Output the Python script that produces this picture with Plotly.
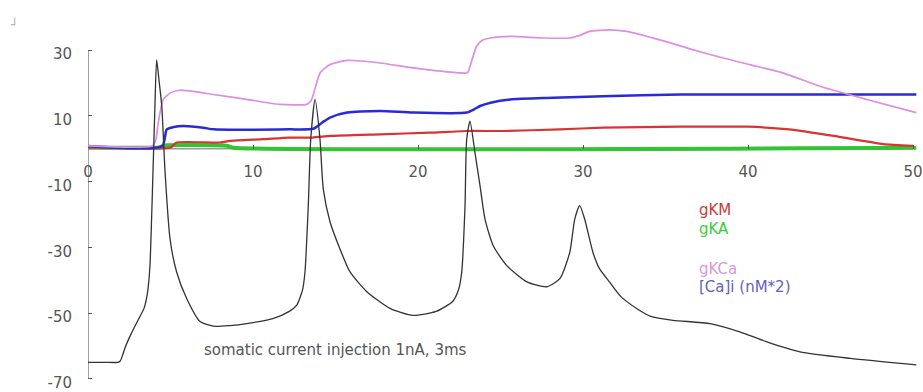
import plotly.graph_objects as go

# ---------------- data ----------------
t_vm = [0, 1.0, 1.8, 1.95, 2.1, 2.25, 2.6, 3.0, 3.4, 3.6, 3.75, 3.85, 3.95, 4.05, 4.16, 4.3, 4.47, 4.67,
        4.97, 5.37, 5.98, 6.79, 7.6, 8.6, 9.62, 11.2, 12.2, 12.65, 13.0, 13.15, 13.35, 13.5,
        13.76, 14.06, 14.26, 14.67, 15.27, 15.88, 16.9, 18.3, 19.7, 21.1, 22.1, 22.45, 22.65,
        22.85, 22.95, 23.15, 23.45, 23.76, 24.06, 24.56, 25.37, 26.6, 27.8, 28.6, 29.2, 29.5,
        29.8, 30.1, 30.6, 31.0, 31.6, 32.3, 33.25, 34.1, 35.45, 37.7, 39.5, 41.1, 43.15, 46.2, 50.2]
vm = [-65, -65, -65, -64.6, -62.8, -60.5, -56.5, -52.5, -48.5, -44, -36, -22, -5, 12, 27, 21, 13, -7,
      -27.4, -37.5, -45.6, -52.6, -54, -53.8, -53.2, -51.7, -49.5, -47.6, -43, -37.5, -17.3, 2.9,
      15, 2.9, -12.3, -22.3, -30.5, -37.5, -43.5, -48.6, -50.7, -49.5, -46.5, -43, -37.5,
      -17.3, 2.9, 8.4, -1.1, -11.3, -21.4, -29.5, -35.5, -40.5, -42, -39.5, -31.5, -21.4,
      -17.3, -21.4, -31.5, -36.5, -40.5, -45, -48.6, -51, -52.2, -53.2, -55.7, -58.7, -61.8, -63.8, -65.8]

t_kca = [0, 3.9, 4.1, 4.26, 4.56, 5.0, 5.57, 7.6, 9.6, 11.6, 13.25, 13.5, 13.66, 14.06, 14.67,
         15.7, 17.7, 19.7, 22.5, 23.0, 23.15, 23.55, 23.9, 24.4, 25.6, 27.6, 29.2, 29.8, 30.4,
         31.6, 32.65, 35.3, 37.3, 40.1, 42.1, 44.5, 47.2, 50.2]
g_kca = [0.85, 0.85, 2.5, 7.9, 15, 17, 17.8, 16.5, 15, 13.5, 13.5, 14.5, 16.5, 23, 25.6,
         26.9, 26.1, 24.6, 23.1, 23.1, 25, 31.2, 33.0, 33.7, 34.2, 33.7, 33.7, 34.5, 35.7,
         36.2, 35.7, 32.2, 29.2, 25.6, 23.1, 18.8, 15, 11]

t_ca = [0, 4.5, 4.77, 5.2, 5.78, 6.99, 7.6, 12.2, 13.66, 14.2, 14.67, 15.7, 17.7, 19.7,
        22.95, 23.4, 23.76, 24.4, 25.6, 28.2, 31.2, 35.9, 40, 50.2]
ca_i = [0.85, 0.85, 5.9, 6.6, 6.9, 6.4, 5.9, 5.9, 6.1, 8, 9.5, 11, 11.5, 11,
        11, 12, 13, 14, 15, 15.5, 16, 16.5, 16.5, 16.5]

t_km = [0, 5.0, 5.37, 8, 8.6, 10.6, 12.2, 13.6, 14.7, 17.7, 20.7, 23, 25.2, 28.6, 31.2,
        35.9, 40, 42.5, 45.2, 48.2, 50.0]
g_km = [0.4, 0.4, 1.9, 1.9, 2.4, 2.9, 3.4, 3.4, 3.9, 4.4, 4.9, 5.4, 5.4, 5.9, 6.4,
        6.7, 6.7, 5.9, 3.9, 1.4, 0.85]

t_ka = [0, 4.3, 4.7, 8.4, 8.8, 50.2]
g_ka = [0.4, 0.4, 1.0, 0.9, 0.3, 0.3]

x_ticks = [0, 10, 20, 30, 40, 50]
y_ticks = [30, 10, -10, -30, -50, -70]
y_tick_text = ["30", "10", "-10", "-30", "-50", "-70"]

labels = ["gKM", "gKA", "gKCa", "[Ca]i (nM*2)"]
label_colors = ["#c83c3c", "#3ccc3c", "#d89ad9", "#6262bc"]
note = "somatic current injection 1nA, 3ms"

# ---------------- layout geometry ----------------
W, H = 923, 392
ML = 88
PX_PER_MS = 16.5
PX_PER_MV = 3.303
ZERO_PY = 149.5
x_range = [0, (W - ML) / PX_PER_MS]
y_range = [-(H - ZERO_PY) / PX_PER_MV, ZERO_PY / PX_PER_MV]
x_axis_pos = (0 - y_range[0]) / (y_range[1] - y_range[0])


def px(x):
    return (x - ML) / (W - ML)


def py(y):
    return (H - y) / H


FONT = "DejaVu Sans"
TXT = "#555555"

fig = go.Figure()
fig.add_trace(go.Scatter(x=t_ka, y=g_ka, mode="lines",
                         line=dict(color="#33c433", width=4, shape="spline", smoothing=0.5)))
fig.add_trace(go.Scatter(x=t_km, y=g_km, mode="lines",
                         line=dict(color="#d83434", width=2.2, shape="spline", smoothing=0.5)))
fig.add_trace(go.Scatter(x=t_ca, y=ca_i, mode="lines",
                         line=dict(color="#2a2ad6", width=2.5, shape="spline", smoothing=0.6)))
fig.add_trace(go.Scatter(x=t_kca, y=g_kca, mode="lines",
                         line=dict(color="#dc8de4", width=1.7, shape="spline", smoothing=0.6)))
fig.add_trace(go.Scatter(x=t_vm, y=vm, mode="lines",
                         line=dict(color="#333333", width=1.3, shape="spline", smoothing=0.6)))

fig.update_layout(
    width=W, height=H,
    margin=dict(l=ML, r=0, t=0, b=0),
    paper_bgcolor="white", plot_bgcolor="white",
    showlegend=False,
    font=dict(family=FONT, size=15, color=TXT),
    xaxis=dict(range=x_range, tickvals=x_ticks, ticks="inside", ticklen=4, tickcolor="#555",
               showgrid=False, zeroline=False, showline=False, anchor="free",
               position=x_axis_pos, ticklabelstandoff=12, ticklabeloverflow="allow",
               tickfont=dict(family=FONT, size=15, color=TXT)),
    yaxis=dict(range=y_range, tickvals=y_ticks, ticktext=y_tick_text, ticks="inside",
               ticklen=4, tickcolor="#555",
               showgrid=False, zeroline=False, showline=False,
               ticklabelstandoff=15, ticklabelshift=4, ticklabeloverflow="allow",
               tickfont=dict(family=FONT, size=15, color=TXT)),
    shapes=[
        dict(type="line", xref="x", yref="y", x0=0, x1=0, y0=y_ticks[-1], y1=y_ticks[0],
             line=dict(color="#666", width=1.2), layer="below"),
        dict(type="line", xref="x", yref="y", x0=0, x1=x_ticks[-1], y0=0, y1=0,
             line=dict(color="#999", width=1.5), layer="below"),
    ],
)

label_py = [211, 230, 270, 288]
for lab, col, ly in zip(labels, label_colors, label_py):
    fig.add_annotation(text=lab, xref="paper", yref="paper", x=px(697), y=py(ly),
                       xanchor="left", yanchor="middle", showarrow=False,
                       font=dict(family=FONT, size=15, color=col))

fig.add_annotation(text=note, xref="paper", yref="paper", x=px(202), y=py(352),
                   xanchor="left", yanchor="middle", showarrow=False,
                   font=dict(family=FONT, size=15, color=TXT))
fig.add_annotation(text="┘", xref="paper", yref="paper", x=px(14), y=py(25),
                   xanchor="center", yanchor="middle", showarrow=False,
                   font=dict(family=FONT, size=12, color="#aaaaaa"))

fig.write_html("out.html")
